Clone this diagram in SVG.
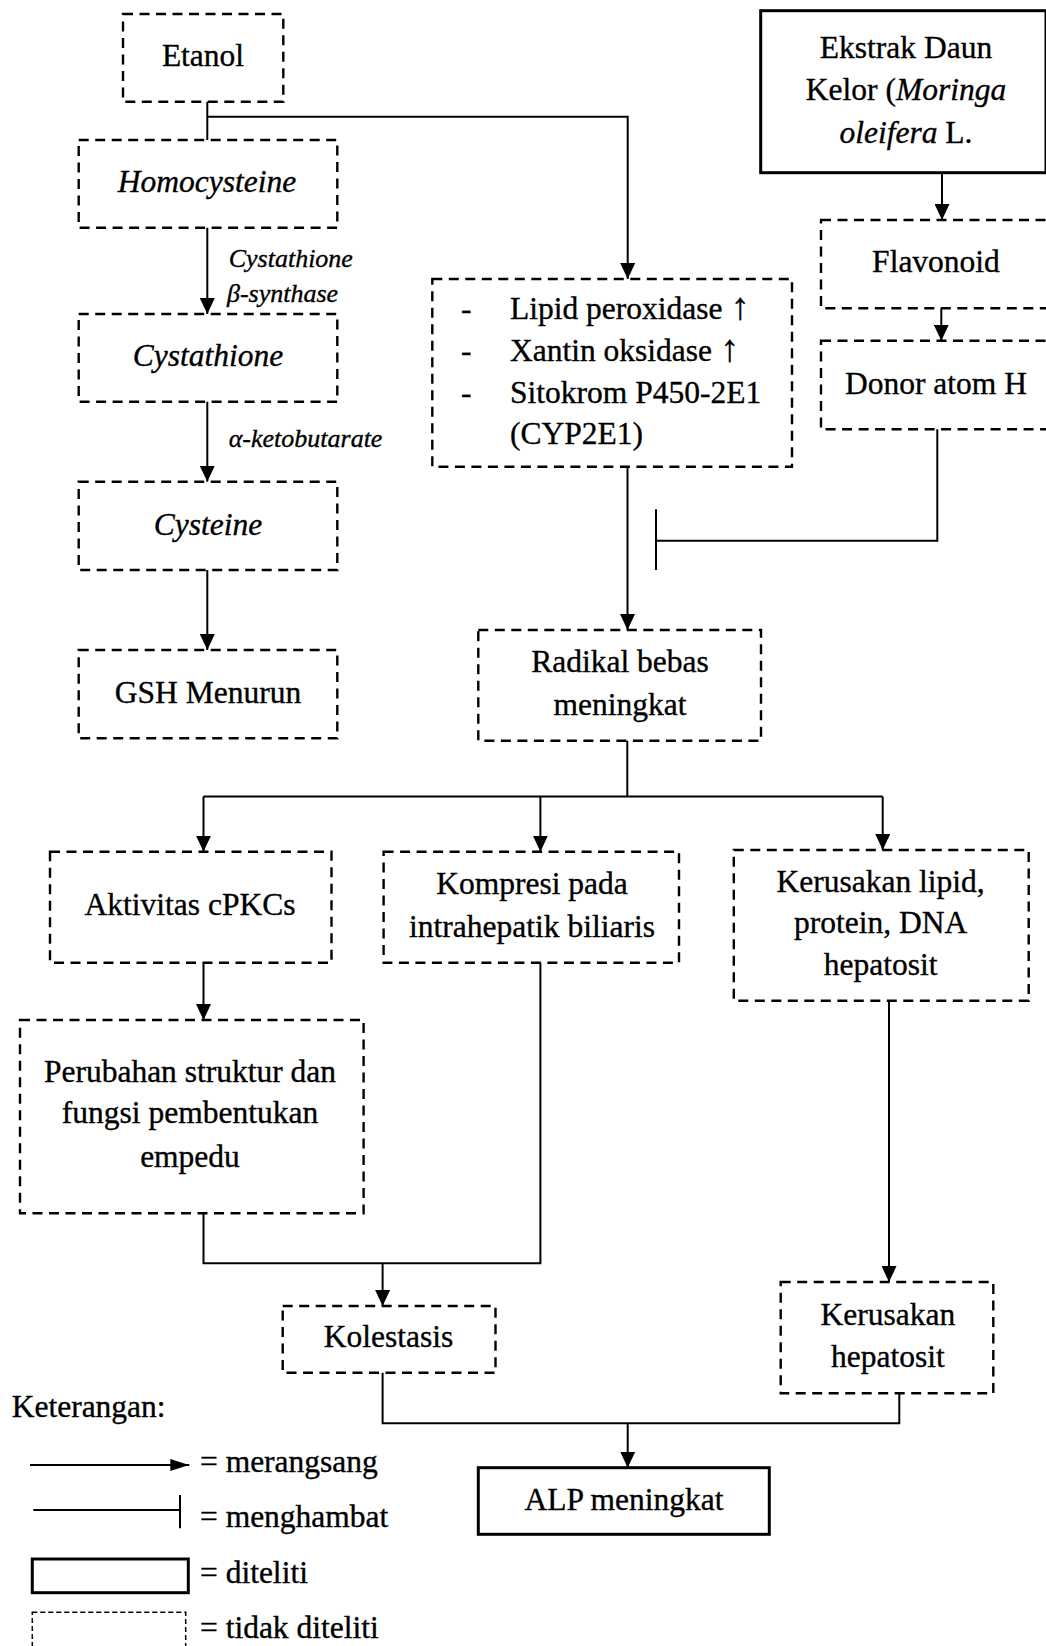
<svg xmlns="http://www.w3.org/2000/svg" width="1046" height="1646" viewBox="0 0 1046 1646">
  <defs>
    <marker id="arrow" markerUnits="userSpaceOnUse" markerWidth="16" markerHeight="15" refX="16" refY="7.5" orient="auto">
      <path d="M0,0 L16,7.5 L0,15 z" fill="#000"/>
    </marker>
    <marker id="arrow-small" markerUnits="userSpaceOnUse" markerWidth="19" markerHeight="12" refX="19" refY="6" orient="auto">
      <path d="M0,0 L19,6 L0,12 z" fill="#000"/>
    </marker>
  </defs>
  <style>
    text { font-family: "Liberation Serif", "Times New Roman", serif; font-size: 31.5px; fill: #000; stroke: #000; stroke-width: 0.35px; }
    .c { text-anchor: middle; }
    .i { font-style: italic; }
    .up { font-size: 38px; }
    .lbl { font-size: 26px; font-style: italic; }
    .dash { fill: none; stroke: #000; stroke-width: 2.4; stroke-dasharray: 10 6.5; }
    .solid { fill: none; stroke: #000; stroke-width: 3; }
    .ln { fill: none; stroke: #000; stroke-width: 2; }
    .arr { fill: none; stroke: #000; stroke-width: 2; marker-end: url(#arrow); }
  </style>

  <rect width="1046" height="1646" fill="#fff"/>

  <!-- connectors -->
  <g id="connectors">
    <!-- Etanol branches -->
    <path class="ln" d="M207.3,101.7 V140"/>
    <path class="arr" d="M207.3,116.7 H627.7 V279"/>
    <!-- homocysteine pathway -->
    <path class="arr" d="M207.3,227.7 V314"/>
    <path class="arr" d="M207.3,401.7 V481.7"/>
    <path class="arr" d="M207.3,570 V650"/>
    <!-- Moringa extract pathway -->
    <path class="arr" d="M942,172.7 V220"/>
    <path class="arr" d="M941.3,308.3 V340.7"/>
    <!-- inhibition -->
    <path class="ln" d="M937.3,429.3 V540.7 H656"/>
    <path class="ln" d="M656,509.3 V570"/>
    <!-- oxidative stress -->
    <path class="arr" d="M627.5,466.7 V630"/>
    <path class="ln" d="M627.3,740.7 V796.5"/>
    <path class="ln" d="M203.5,796.5 H882.7"/>
    <path class="arr" d="M203.5,796.5 V851.7"/>
    <path class="arr" d="M540.4,796.5 V851.7"/>
    <path class="arr" d="M882.7,796.5 V850"/>
    <path class="arr" d="M203.5,962.7 V1020"/>
    <!-- to cholestasis -->
    <path class="ln" d="M203.5,1213.3 V1263.3 H540.4 V962.7"/>
    <path class="arr" d="M382.6,1263.3 V1306"/>
    <!-- hepatocyte damage -->
    <path class="arr" d="M889,1000.7 V1282"/>
    <!-- to ALP -->
    <path class="ln" d="M382.6,1372.7 V1423.3 H899.3 V1393.3"/>
    <path class="arr" d="M627.7,1423.3 V1467.7"/>
  </g>

  <!-- enzyme labels -->
  <g id="labels">
    <text class="lbl" x="228.7" y="266.7">Cystathione</text>
    <text class="lbl" x="227" y="301.7">β-synthase</text>
    <text class="lbl" x="228.7" y="446.7">α-ketobutarate</text>
  </g>

  <g id="etanol">
    <rect class="dash" x="123" y="14" width="160.3" height="87.7"/>
    <text class="c" x="203" y="66">Etanol</text>
  </g>

  <g id="homocysteine">
    <rect class="dash" x="78.7" y="140" width="258.6" height="87.7"/>
    <text class="c i" x="207" y="191.7">Homocysteine</text>
  </g>

  <g id="cystathione">
    <rect class="dash" x="78.7" y="314" width="258.6" height="87.7"/>
    <text class="c i" x="208" y="366">Cystathione</text>
  </g>

  <g id="cysteine">
    <rect class="dash" x="78.7" y="481.7" width="258.6" height="88.3"/>
    <text class="c i" x="208" y="535">Cysteine</text>
  </g>

  <g id="gsh">
    <rect class="dash" x="78.7" y="650" width="258.6" height="88.3"/>
    <text class="c" x="208" y="703.3">GSH Menurun</text>
  </g>

  <g id="enzim">
    <rect class="dash" x="432.3" y="279" width="359.7" height="187.7"/>
    <text x="461" y="319.3">-</text>
    <text x="510" y="319.3">Lipid peroxidase <tspan class="up">↑</tspan></text>
    <text x="461" y="361">-</text>
    <text x="510" y="361">Xantin oksidase <tspan class="up">↑</tspan></text>
    <text x="461" y="402.7">-</text>
    <text x="510" y="402.7">Sitokrom P450-2E1</text>
    <text x="510" y="444.4">(CYP2E1)</text>
  </g>

  <g id="ekstrak">
    <rect class="solid" x="760.7" y="10.7" width="285.3" height="162"/>
    <text class="c" x="906" y="58.3">Ekstrak Daun</text>
    <text class="c" x="906" y="100">Kelor (<tspan class="i">Moringa</tspan></text>
    <text class="c" x="906" y="142.7"><tspan class="i">oleifera</tspan> L.</text>
  </g>

  <g id="flavonoid">
    <rect class="dash" x="821" y="220" width="227" height="88.3"/>
    <text class="c" x="936" y="271.7">Flavonoid</text>
  </g>

  <g id="donor">
    <rect class="dash" x="821" y="340.7" width="227" height="88.6"/>
    <text class="c" x="936" y="394">Donor atom H</text>
  </g>

  <g id="radikal">
    <rect class="dash" x="478.3" y="630" width="282.7" height="110.7"/>
    <text class="c" x="620" y="671.7">Radikal bebas</text>
    <text class="c" x="620" y="715">meningkat</text>
  </g>

  <g id="aktivitas">
    <rect class="dash" x="50" y="851.7" width="281.5" height="111"/>
    <text class="c" x="190" y="915">Aktivitas cPKCs</text>
  </g>

  <g id="kompresi">
    <rect class="dash" x="383.6" y="851.7" width="295.4" height="111"/>
    <text class="c" x="532" y="894.3">Kompresi pada</text>
    <text class="c" x="532" y="936.7">intrahepatik biliaris</text>
  </g>

  <g id="kerusakan-lipid">
    <rect class="dash" x="733.8" y="850" width="294.9" height="150.7"/>
    <text class="c" x="880.6" y="891.7">Kerusakan lipid,</text>
    <text class="c" x="880.6" y="933.3">protein, DNA</text>
    <text class="c" x="880.6" y="975">hepatosit</text>
  </g>

  <g id="perubahan">
    <rect class="dash" x="20" y="1020" width="343.6" height="193.3"/>
    <text class="c" x="190" y="1081.7">Perubahan struktur dan</text>
    <text class="c" x="190" y="1123.3">fungsi pembentukan</text>
    <text class="c" x="190" y="1166.7">empedu</text>
  </g>

  <g id="kolestasis">
    <rect class="dash" x="282.7" y="1306" width="212.8" height="66.7"/>
    <text class="c" x="388.6" y="1347.3">Kolestasis</text>
  </g>

  <g id="kerusakan-hepatosit">
    <rect class="dash" x="780.7" y="1282" width="212.6" height="111.3"/>
    <text class="c" x="887.8" y="1325">Kerusakan</text>
    <text class="c" x="887.8" y="1366.7">hepatosit</text>
  </g>

  <g id="alp">
    <rect class="solid" x="478.3" y="1467.7" width="291" height="66.6"/>
    <text class="c" x="624" y="1510">ALP meningkat</text>
  </g>

  <!-- legend -->
  <g id="legend">
    <text x="11.7" y="1416.7">Keterangan:</text>
    <path d="M30,1465 H189.3" stroke="#000" stroke-width="2" fill="none" marker-end="url(#arrow-small)"/>
    <text x="200" y="1471.7">= merangsang</text>
    <path d="M33.3,1510 H180 M180,1495 V1528.3" stroke="#000" stroke-width="2" fill="none"/>
    <text x="200" y="1526.7">= menghambat</text>
    <rect x="32.3" y="1559" width="156" height="33.7" fill="none" stroke="#000" stroke-width="3"/>
    <text x="200" y="1583.3">= diteliti</text>
    <rect x="32.3" y="1612.3" width="153.4" height="40" fill="none" stroke="#000" stroke-width="1.5" stroke-dasharray="5 3"/>
    <text x="200" y="1638.3">= tidak diteliti</text>
  </g>
</svg>
